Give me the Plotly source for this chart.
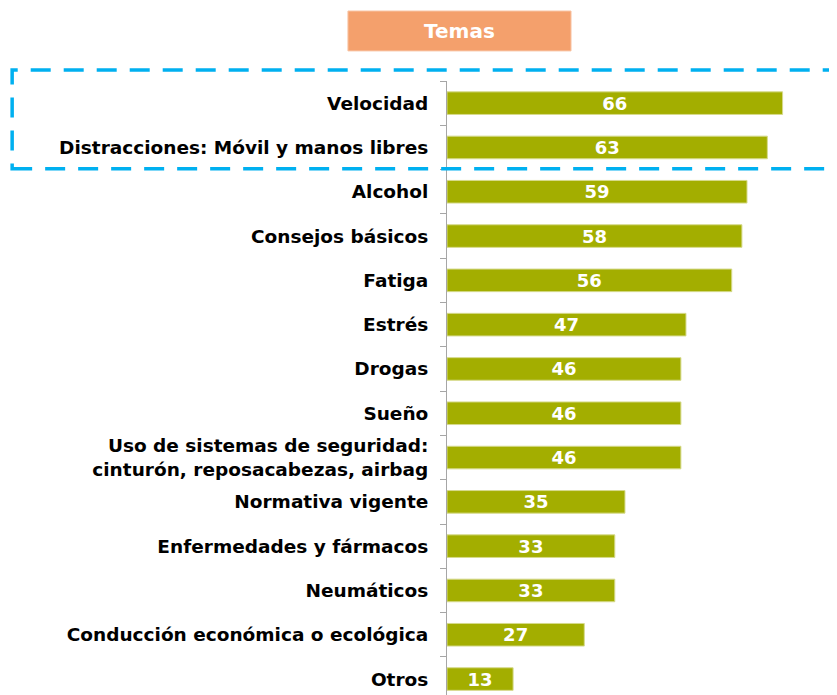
import plotly.graph_objects as go

categories = [
    "Velocidad",
    "Distracciones: Móvil y manos libres",
    "Alcohol",
    "Consejos básicos",
    "Fatiga",
    "Estrés",
    "Drogas",
    "Sueño",
    "Uso de sistemas de seguridad:<br>cinturón, reposacabezas, airbag",
    "Normativa vigente",
    "Enfermedades y fármacos",
    "Neumáticos",
    "Conducción económica o ecológica",
    "Otros",
]
values = [66, 63, 59, 58, 56, 47, 46, 46, 46, 35, 33, 33, 27, 13]
title_text = "Temas"

FONT = "'DejaVu Sans', Arial, sans-serif"

fig = go.Figure(
    go.Bar(
        x=values,
        y=categories,
        orientation="h",
        width=0.51,
        marker=dict(color="#A3AE00", line=dict(color="#D6DA8C", width=1)),
        text=[str(v) for v in values],
        textposition="inside",
        insidetextanchor="middle",
        textfont=dict(color="white", size=18, family=FONT, weight="bold"),
        constraintext="none",
        hoverinfo="skip",
    )
)

# page body has an 8px margin, so the figure is sized to end at the window edge
fig.update_layout(
    width=829,
    height=687,
    margin=dict(l=439, r=0, t=73, b=0, autoexpand=False),
    paper_bgcolor="white",
    plot_bgcolor="white",
    showlegend=False,
    font=dict(family=FONT, color="black"),
)

fig.update_xaxes(range=[0, 76.7], visible=False, fixedrange=True)
fig.update_yaxes(
    type="category",
    categoryorder="array",
    categoryarray=categories,
    range=[13.36, -0.5],
    showline=True,
    linecolor="#A6A6A6",
    linewidth=1,
    ticks="outside",
    tickson="boundaries",
    ticklen=6,
    tickcolor="#A6A6A6",
    tickfont=dict(size=18.5, family=FONT, color="black", weight="bold"),
    ticklabelstandoff=14,
    showgrid=False,
    zeroline=False,
    fixedrange=True,
)

# title box
fig.add_shape(
    type="rect", xref="paper", yref="paper",
    x0=-0.254, x1=0.318, y0=1.049, y1=1.114,
    fillcolor="#F4A06C", line=dict(color="#F8C4A4", width=1),
    layer="above",
)
fig.add_annotation(
    xref="paper", yref="paper", x=0.032, y=1.0815,
    text=title_text, showarrow=False,
    font=dict(size=20, color="white", family=FONT, weight="bold"),
    xanchor="center", yanchor="middle",
)

# dashed highlight rectangle
fig.add_shape(
    type="rect", xref="paper", yref="paper",
    x0=-1.115, x1=1.05, y0=0.857, y1=1.018,
    fillcolor="rgba(0,0,0,0)",
    line=dict(color="#00B0F0", width=3.5, dash="20px,13px"),
    layer="above",
)

fig.write_html("out.html")
